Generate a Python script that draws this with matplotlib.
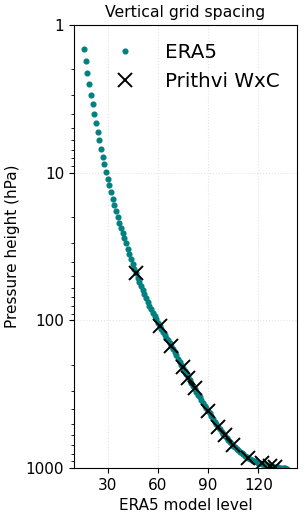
import matplotlib
matplotlib.use("Agg")
import matplotlib.pyplot as plt
from matplotlib.ticker import FixedLocator, FixedFormatter

# ERA5 model levels 16..137 and their (approximate) full-level pressure in hPa
era5_levels = list(range(16, 138))
era5_pressure = [
    1.46, 1.75, 2.10, 2.50, 2.96, 3.44, 3.98, 4.60, 5.28, 6.03,
    6.87, 7.79, 8.80, 9.84, 11.0, 12.2, 13.6, 15.1, 16.6, 18.3,
    20.0, 21.8, 23.6, 25.6, 27.8, 30.1, 32.7, 35.4, 38.3, 41.4,
    44.6, 48.0, 51.5, 55.0, 58.8, 62.6, 66.6, 70.8, 75.0, 79.4,
    84.0, 88.7, 93.5, 98.4, 103.5, 108.8, 114.2, 119.7, 125.3, 131.0,
    136.7, 142.5, 148.4, 156.7, 164.4, 172.6, 181.3, 190.4, 199.9, 209.9,
    220.5, 231.4, 242.7, 254.4, 266.5, 279.0, 291.9, 305.2, 318.9, 333.0,
    347.5, 362.4, 377.7, 393.4, 409.5, 427.0, 445.5, 465.0, 485.3, 506.2,
    527.5, 548.5, 569.3, 589.9, 610.2, 630.2, 649.8, 669.0, 687.8, 706.2,
    724.2, 741.8, 759.0, 775.8, 792.2, 808.2, 823.8, 839.0, 853.8, 867.7,
    880.6, 892.4, 903.1, 912.8, 921.6, 929.6, 936.9, 943.7, 950.1, 956.2,
    962.0, 967.5, 972.8, 977.9, 982.8, 987.4, 991.7, 995.7, 999.4, 1002.8,
    1005.9, 1008.7,
]

# Prithvi WxC levels mapped to ERA5 model levels
prithvi_levels = [47, 61, 68, 75, 78, 82, 90, 96, 100, 105, 114, 122, 127, 130]
prithvi_pressure = [48, 109, 150, 208, 245, 288, 412, 525, 600, 700, 850, 925, 970, 985]

y_ticks = [1, 10, 100, 1000]
x_ticks = [30, 60, 90, 120]

fig = plt.figure(figsize=(3.05, 5.18), dpi=100)
ax = fig.add_axes([0.2426, 0.0965, 0.7312, 0.8552])

ax.plot(era5_levels, era5_pressure, "o", color="teal", ms=3.4, ls="none", label="ERA5")
ax.plot(prithvi_levels, prithvi_pressure, "x", color="black", ms=9.5, mew=1.4,
        ls="none", label="Prithvi WxC")

ax.set_yscale("log")
ax.set_ylim(1000, 1)
ax.yaxis.set_major_locator(FixedLocator(y_ticks))
ax.yaxis.set_major_formatter(FixedFormatter([str(t) for t in y_ticks]))
ax.set_xticks(x_ticks)
ax.grid(True, ls=":", color="#e4e4e4", lw=0.8)

ax.tick_params(labelsize=11)
ax.set_xlabel("ERA5 model level", fontsize=11)
ax.set_ylabel("Pressure height (hPa)", fontsize=11)
ax.set_title("Vertical grid spacing", fontsize=11.3)
ax.legend(loc="upper right", frameon=False, fontsize=14.3, handletextpad=1.0)

fig.savefig("out.png", dpi=100)
